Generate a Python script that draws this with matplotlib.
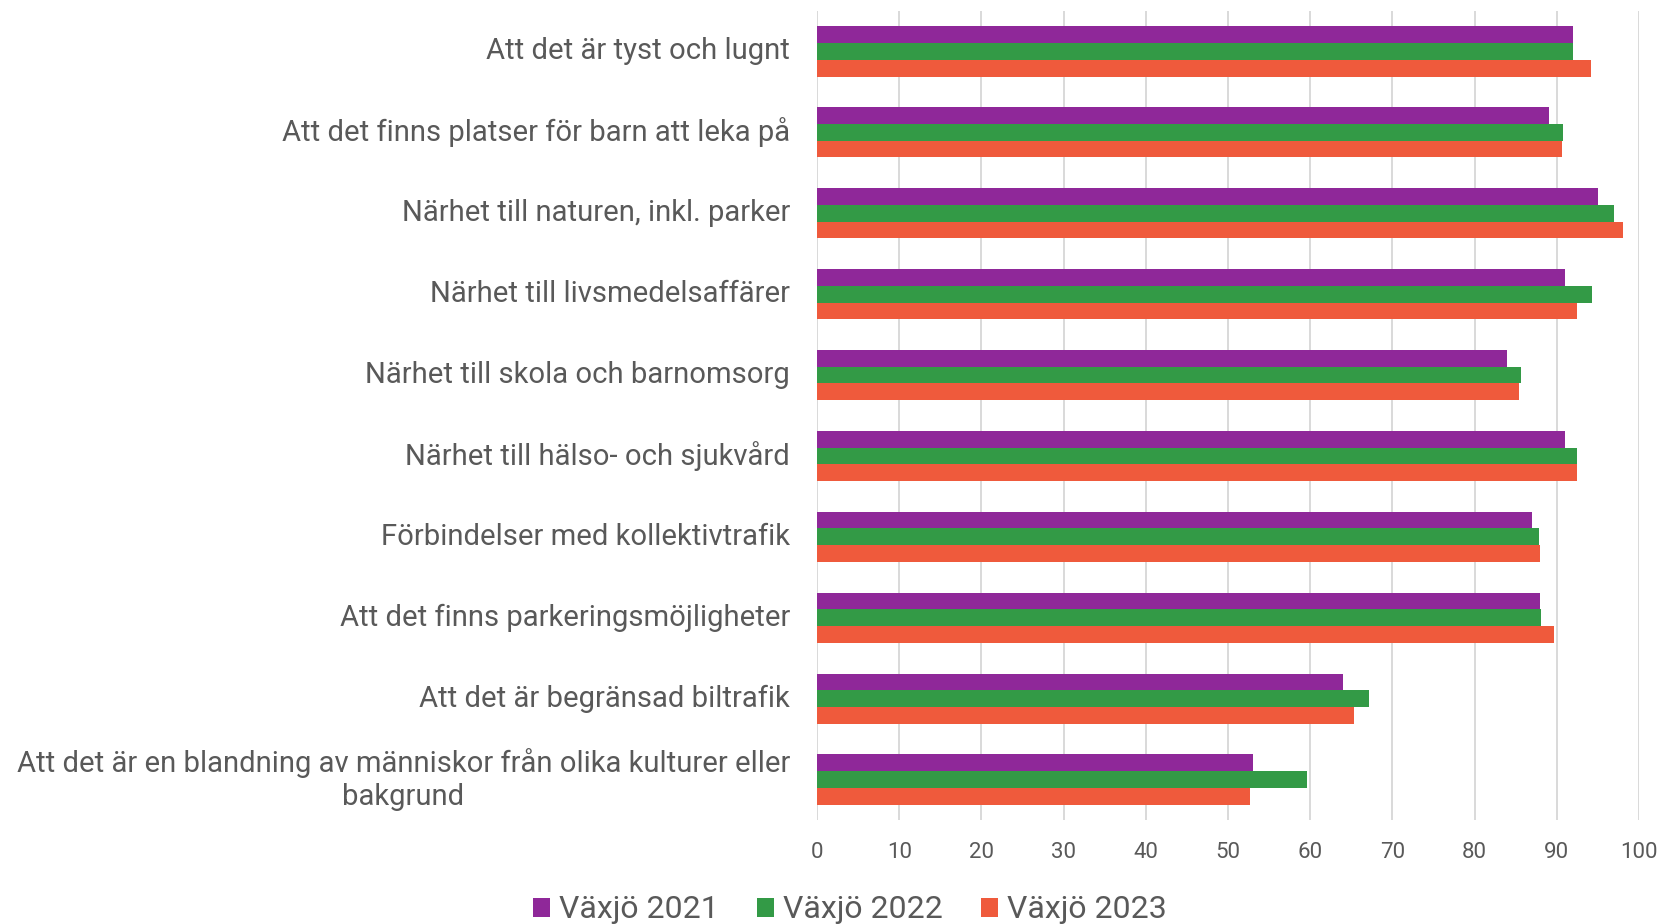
import numpy as np
import matplotlib
matplotlib.use("Agg")
import matplotlib.pyplot as plt

plt.rcParams["font.family"] = ["Roboto", "DejaVu Sans"]

categories = [
    "Att det är tyst och lugnt",
    "Att det finns platser för barn att leka på",
    "Närhet till naturen, inkl. parker",
    "Närhet till livsmedelsaffärer",
    "Närhet till skola och barnomsorg",
    "Närhet till hälso- och sjukvård",
    "Förbindelser med kollektivtrafik",
    "Att det finns parkeringsmöjligheter",
    "Att det är begränsad biltrafik",
    "Att det är en blandning av människor från olika kulturer eller\nbakgrund",
]
vaxjo_2021 = [92.0, 89.0, 95.0, 91.0, 84.0, 91.0, 87.0, 88.0, 64.0, 53.0]
vaxjo_2022 = [92.0, 90.7, 96.9, 94.3, 85.7, 92.4, 87.8, 88.1, 67.1, 59.6]
vaxjo_2023 = [94.2, 90.6, 98.1, 92.4, 85.4, 92.4, 88.0, 89.6, 65.3, 52.7]
series_names = ["Växjö 2021", "Växjö 2022", "Växjö 2023"]
colors = ["#8f2899", "#339a46", "#ef5a3c"]
xticks = [0, 10, 20, 30, 40, 50, 60, 70, 80, 90, 100]

text_col = "#595959"

fig = plt.figure(figsize=(16.62, 9.24), dpi=100)
ax = fig.add_axes([817 / 1662, 1 - 820 / 924, (1639 - 817) / 1662, (820 - 11) / 924])

y = np.arange(len(categories))
h = 0.207
for k, (vals, name, col) in enumerate(zip([vaxjo_2021, vaxjo_2022, vaxjo_2023], series_names, colors)):
    ax.barh(y + (k - 1) * h, vals, height=h, color=col, label=name, zorder=3)

ax.set_xlim(0, 100)
ax.set_ylim(len(categories) - 0.5, -0.5)
ax.set_xticks(xticks)
ax.set_yticks(y)
ax.set_yticklabels(categories, fontsize=21.1, color=text_col, multialignment="center",
                   va="center")
ax.tick_params(axis="y", length=0, pad=19.5)
ax.tick_params(axis="x", length=0, pad=16, labelsize=16, labelcolor=text_col)
ax.grid(True, axis="x", color="#d9d9d9", linewidth=1.4, zorder=0)
for s in ax.spines.values():
    s.set_visible(False)

fig.legend(loc="center", bbox_to_anchor=(850 / 1662, 1 - 910 / 924), ncol=3, frameon=False,
           fontsize=23, handlelength=0.55, handleheight=0.55, handletextpad=0.28,
           columnspacing=1.18, labelcolor=text_col)

fig.savefig("out.png", dpi=100)
